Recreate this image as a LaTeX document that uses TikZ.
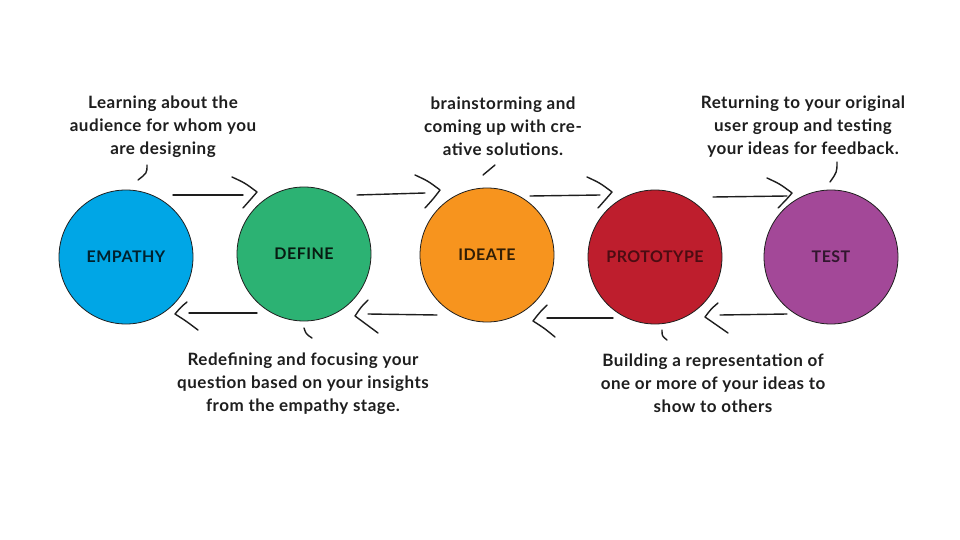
\documentclass[tikz,border=0pt]{standalone}
\usepackage{fontspec}
\setmainfont{Lato}[LetterSpace=3]
\definecolor{empblue}{RGB}{0,166,230}
\definecolor{defgreen}{RGB}{44,178,115}
\definecolor{ideorange}{RGB}{247,148,30}
\definecolor{prored}{RGB}{190,30,45}
\definecolor{testpurple}{RGB}{163,72,152}
\definecolor{ink}{RGB}{30,30,30}
\begin{document}
\begin{tikzpicture}[x=1pt,y=-1pt]
\tikzset{
 stage/.style={circle, draw=ink, line width=0.8pt, minimum size=134pt, inner sep=0pt, font=\fontsize{16}{16}\selectfont\bfseries},
 note/.style={align=center, font=\fontsize{17}{23}\selectfont\bfseries, text=ink},
 stroke/.style={line width=1.4pt, draw=ink, line cap=round, line join=round},
}
\useasboundingbox[fill=white] (0,0) rectangle (960,540);

% stages
\node[stage, fill=empblue, text=empblue!20!black] (e) at (126,257) {EMPATHY};
\node[stage, fill=defgreen, text=defgreen!15!black] (d) at (304,254) {DEFINE};
\node[stage, fill=ideorange, text=ideorange!20!black] (i) at (487,255) {IDEATE};
\node[stage, fill=prored, text=prored!40!black] (p) at (655,257) {PROTOTYPE};
\node[stage, fill=testpurple, text=testpurple!30!black] (t) at (831,257) {TEST};

% notes
\node[note] (n1) at (163,127) {Learning about the\\audience for whom you\\are designing};
\node[note] (n2) at (503,126) {brainstorming and\\coming up with cre-\\ative solutions.};
\node[note] (n3) at (803,127) {Returning to your original\\user group and testing\\your ideas for feedback.};
\node[note] (n4) at (303,384) {Redefining and focusing your\\question based on your insights\\from the empathy stage.};
\node[note] (n5) at (713,383) {Building a representation of\\one or more of your ideas to\\show to others};

% forward arrows (top)
\coordinate (f1s) at (173,195); \coordinate (f1e) at (243,195);
\coordinate (f2s) at (357,195); \coordinate (f2e) at (425,193);
\coordinate (f3s) at (530,196); \coordinate (f3e) at (600,195);
\coordinate (f4s) at (713,197); \coordinate (f4e) at (787,196);
\draw[stroke] (f1s) -- (f1e);
\draw[stroke] (f2s) -- (f2e);
\draw[stroke] (f3s) -- (f3e);
\draw[stroke] (f4s) -- (f4e);
\draw[stroke] (232,177) .. controls (245,183) .. (257,192) .. controls (251,199) .. (243,208);
\draw[stroke] (415,175) .. controls (428,181) .. (440,190) .. controls (434,198) .. (425,208);
\draw[stroke] (587,177) .. controls (600,183) .. (612,192) .. controls (606,199) .. (598,208);
\draw[stroke] (767,178) .. controls (780,184) .. (792,193) .. controls (786,200) .. (778,208);

% backward arrows (bottom)
\coordinate (b1s) at (257,313); \coordinate (b1e) at (189,313);
\coordinate (b2s) at (437,315); \coordinate (b2e) at (368,314);
\coordinate (b3s) at (613,318); \coordinate (b3e) at (547,318);
\coordinate (b4s) at (787,314); \coordinate (b4e) at (720,315);
\draw[stroke] (b1s) -- (b1e);
\draw[stroke] (b2s) -- (b2e);
\draw[stroke] (b3s) -- (b3e);
\draw[stroke] (b4s) -- (b4e);
\draw[stroke] (187,302) .. controls (181,307) .. (175,314) .. controls (186,321) .. (198,330);
\draw[stroke] (368,300) .. controls (361,307) .. (355,316) .. controls (366,324) .. (378,333);
\draw[stroke] (547,305) .. controls (540,312) .. (533,321) .. controls (544,328) .. (555,337);
\draw[stroke] (718,303) .. controls (711,309) .. (705,317) .. controls (716,325) .. (728,333);

% callout ticks
\draw[stroke] (147,165) .. controls (147,173) .. (138,180);
\draw[stroke] (495,165) -- (483,175);
\draw[stroke] (837,162) .. controls (837,172) .. (830,182);
\draw[stroke] (304,328) .. controls (306,334) .. (312,338);
\draw[stroke] (662,330) .. controls (662,336) .. (667,340);
\end{tikzpicture}
\end{document}
